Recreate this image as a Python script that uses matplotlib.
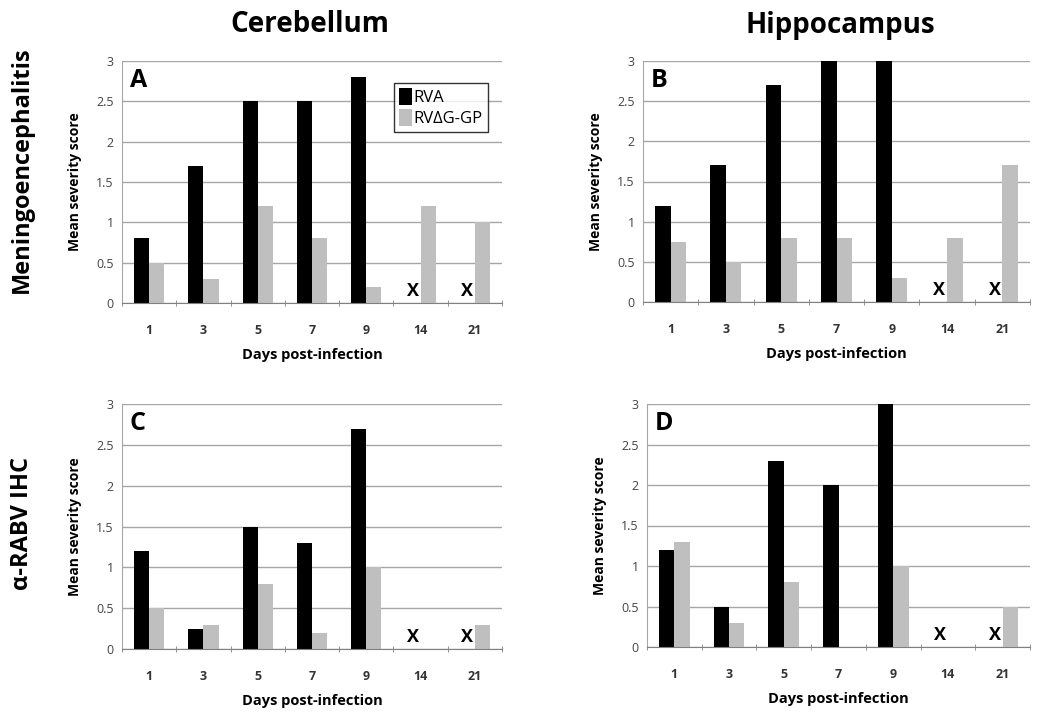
import matplotlib.pyplot as plt
import numpy as np

days = ["1", "3", "5", "7", "9", "14", "21"]
nan = np.nan

# RVA (black) and RVdG-GP (gray) mean severity scores per panel
rva_A = [0.8, 1.7, 2.5, 2.5, 2.8, nan, nan]
gp_A = [0.5, 0.3, 1.2, 0.8, 0.2, 1.2, 1.0]
rva_B = [1.2, 1.7, 2.7, 3.0, 3.0, nan, nan]
gp_B = [0.75, 0.5, 0.8, 0.8, 0.3, 0.8, 1.7]
rva_C = [1.2, 0.25, 1.5, 1.3, 2.7, nan, nan]
gp_C = [0.5, 0.3, 0.8, 0.2, 1.0, 0.0, 0.3]
rva_D = [1.2, 0.5, 2.3, 2.0, 3.0, nan, nan]
gp_D = [1.3, 0.3, 0.8, 0.0, 1.0, 0.0, 0.5]

col_titles = ["Cerebellum", "Hippocampus"]
row_titles = ["Meningoencephalitis", "\u03b1-RABV IHC"]
letters = ["A", "B", "C", "D"]

plt.rcParams['font.family'] = ['Open Sans', 'DejaVu Sans']

W, H = 1050, 718
fig = plt.figure(figsize=(10.5, 7.18), dpi=100)

# axes boxes in pixels: left, right, top, bottom
boxes = [(122, 502, 61, 303), (643, 1030, 61, 302),
         (122, 502, 404, 649), (647, 1030, 404, 647)]
data = [(rva_A, gp_A), (rva_B, gp_B), (rva_C, gp_C), (rva_D, gp_D)]

x = np.arange(len(days))
bw = 0.28
for i, ((l, r, t, b), (rva, gp)) in enumerate(zip(boxes, data)):
    ax = fig.add_axes([l / W, 1 - b / H, (r - l) / W, (b - t) / H])
    ax.set_axisbelow(True)
    ax.yaxis.grid(True, color="#a6a6a6", linewidth=1)
    ax.bar(x - bw / 2, rva, bw, color="black", label="RVA")
    ax.bar(x + bw / 2, gp, bw, color="#bfbfbf", label="RV\u0394G-GP")
    for j, v in enumerate(rva):
        if np.isnan(v):
            ax.text(x[j] - bw / 2, 0.04, "X", ha="center", va="bottom",
                    fontsize=13, fontweight="bold")
    ax.set_xlim(-0.5, len(days) - 0.5)
    ax.set_ylim(0, 3)
    ax.set_yticks([0, 0.5, 1, 1.5, 2, 2.5, 3])
    ax.set_yticklabels(["0", "0.5", "1", "1.5", "2", "2.5", "3"])
    ax.set_xticks(x)
    ax.set_xticklabels(days, fontweight="bold", color="#333333")
    ax.set_xticks(np.arange(-0.5, len(days)), minor=True)
    ax.tick_params(axis="x", which="major", length=0, labelsize=9, pad=15)
    ax.tick_params(axis="x", which="minor", length=5, color="#808080",
                   direction="inout")
    ax.tick_params(axis="y", length=0, labelsize=9, pad=6, colors="#444444")
    for s in ["top", "right"]:
        ax.spines[s].set_visible(False)
    ax.spines["left"].set_color("#a6a6a6")
    ax.spines["bottom"].set_color("#808080")
    ax.set_ylabel("Mean severity score", fontsize=10, fontweight="bold",
                  labelpad=10)
    ax.set_xlabel("Days post-infection", fontsize=10.5, fontweight="bold",
                  labelpad=8)
    ax.text(0.02, 0.97, letters[i], transform=ax.transAxes, fontsize=18,
            fontweight="bold", ha="left", va="top")
    if i == 0:
        leg = ax.legend(loc="upper right", bbox_to_anchor=(0.985, 0.945),
                        fontsize=12, frameon=True, fancybox=False,
                        handlelength=0.8, handleheight=1.2, handletextpad=0.1,
                        borderpad=0.3, labelspacing=0.2)
        leg.get_frame().set_edgecolor("black")
        leg.get_frame().set_linewidth(1)

fig.text(310 / W, 1 - 25 / H, col_titles[0], fontsize=20, fontweight="bold",
         ha="center", va="center")
fig.text(840 / W, 1 - 25 / H, col_titles[1], fontsize=20, fontweight="bold",
         ha="center", va="center")
fig.text(22 / W, 1 - 170 / H, row_titles[0], fontsize=17, fontweight="bold",
         ha="center", va="center", rotation=90)
fig.text(22 / W, 1 - 523 / H, row_titles[1], fontsize=17, fontweight="bold",
         ha="center", va="center", rotation=90)

fig.savefig("out.png", dpi=100)
